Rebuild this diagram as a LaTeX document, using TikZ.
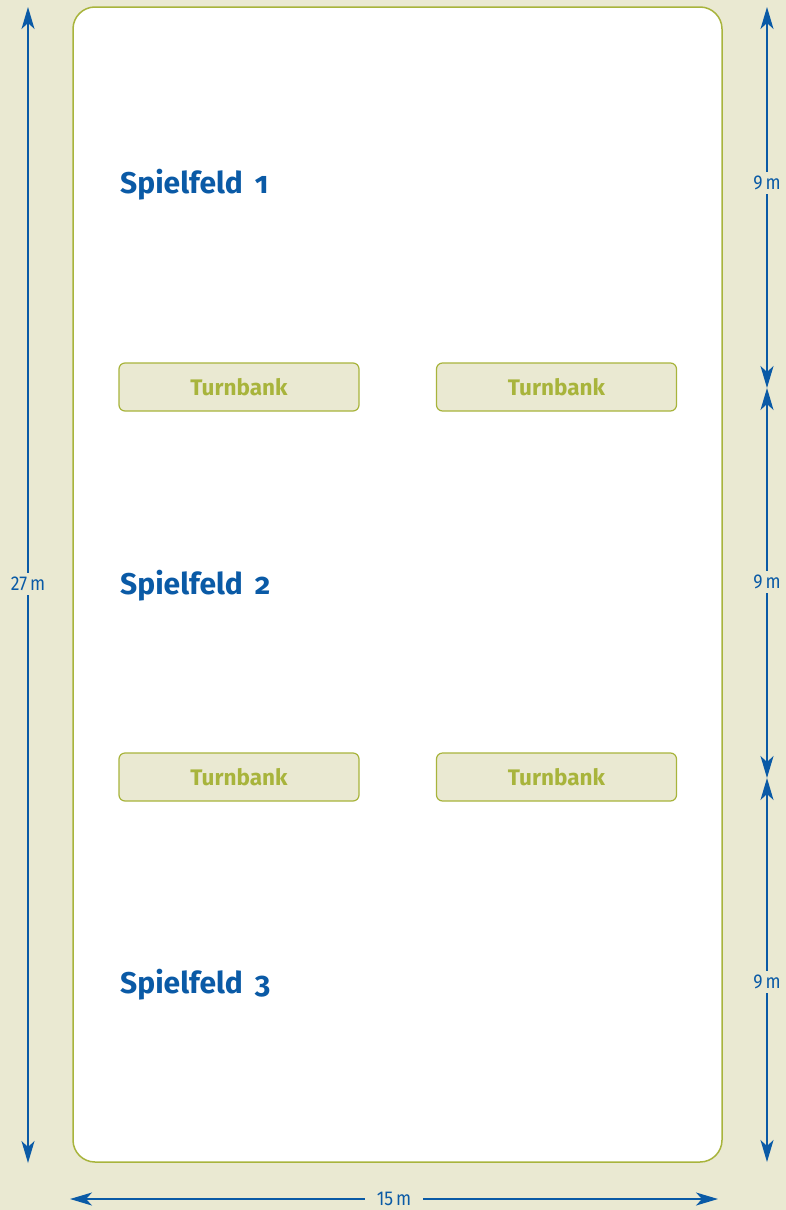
\documentclass[tikz,border=0pt]{standalone}
\usepackage{fontspec}
\setmainfont{Fira Sans}
\newfontfamily\headfont[Numbers=OldStyle]{Fira Sans}
\usetikzlibrary{arrows.meta}
\definecolor{bg}{HTML}{EAE9D2}
\definecolor{olive}{HTML}{A8B43C}
\definecolor{dblue}{HTML}{0A5AA6}
\tikzset{
  dim/.style={draw=dblue, line width=1.4pt, {Stealth[length=22pt,width=13pt,inset=6pt]}-{Stealth[length=22pt,width=13pt,inset=6pt]}},
  dimlabel/.style={fill=bg, text=dblue, inner sep=4pt, font=\fontsize{20}{20}\selectfont},
  fieldlabel/.style={anchor=west, text=dblue, font=\headfont\bfseries\fontsize{30}{30}\selectfont, inner sep=0pt},
  bank/.style={draw=olive, fill=bg, line width=1.2pt, rounded corners=6pt, minimum width=240pt, minimum height=48pt, text=olive, font=\bfseries\fontsize{22.5}{22.5}\selectfont, inner sep=0pt},
}
\newcommand{\dimtxt}[1]{\scalebox{0.88}[1]{#1}}
\begin{document}
\begin{tikzpicture}[x=1pt,y=-1pt]
\fill[bg] (0,0) rectangle (786,1210);
\useasboundingbox (0,0) rectangle (786,1210);
% field
\draw[olive, fill=white, line width=1.5pt, rounded corners=22pt] (73,7) rectangle (722,1162);
% labels
\node[fieldlabel] (s1) at (120,185) {Spielfeld\, 1};
\node[fieldlabel] (s2) at (120,586) {Spielfeld\, 2};
\node[fieldlabel] (s3) at (120,985) {Spielfeld\, 3};
% benches
\node[bank] (b1) at (239,387) {Turnbank};
\node[bank] (b2) at (556.5,387) {Turnbank};
\node[bank] (b3) at (239,777) {Turnbank};
\node[bank] (b4) at (556.5,777) {Turnbank};
% dimension lines
\coordinate (lt) at (28,7);
\coordinate (lb) at (28,1163);
\draw[dim] (lb) -- (lt);
\node[dimlabel] (l27) at (28,584) {\dimtxt{27\,m}};
\coordinate (r0) at (767,7);
\coordinate (r1) at (767,388);
\coordinate (r2) at (767,778);
\coordinate (r3) at (767,1162);
\draw[dim] (r0) -- (r1);
\draw[dim] (r1) -- (r2);
\draw[dim] (r2) -- (r3);
\node[dimlabel] (l9a) at (767,183) {\dimtxt{9\,m}};
\node[dimlabel] (l9b) at (767,582) {\dimtxt{9\,m}};
\node[dimlabel] (l9c) at (767,982) {\dimtxt{9\,m}};
\coordinate (bl) at (70,1199);
\coordinate (br) at (718,1199);
\draw[dim] (bl) -- (br);
\node[dimlabel, inner xsep=12pt] (l15) at (394,1199) {\dimtxt{15\,m}};
\end{tikzpicture}
\end{document}
